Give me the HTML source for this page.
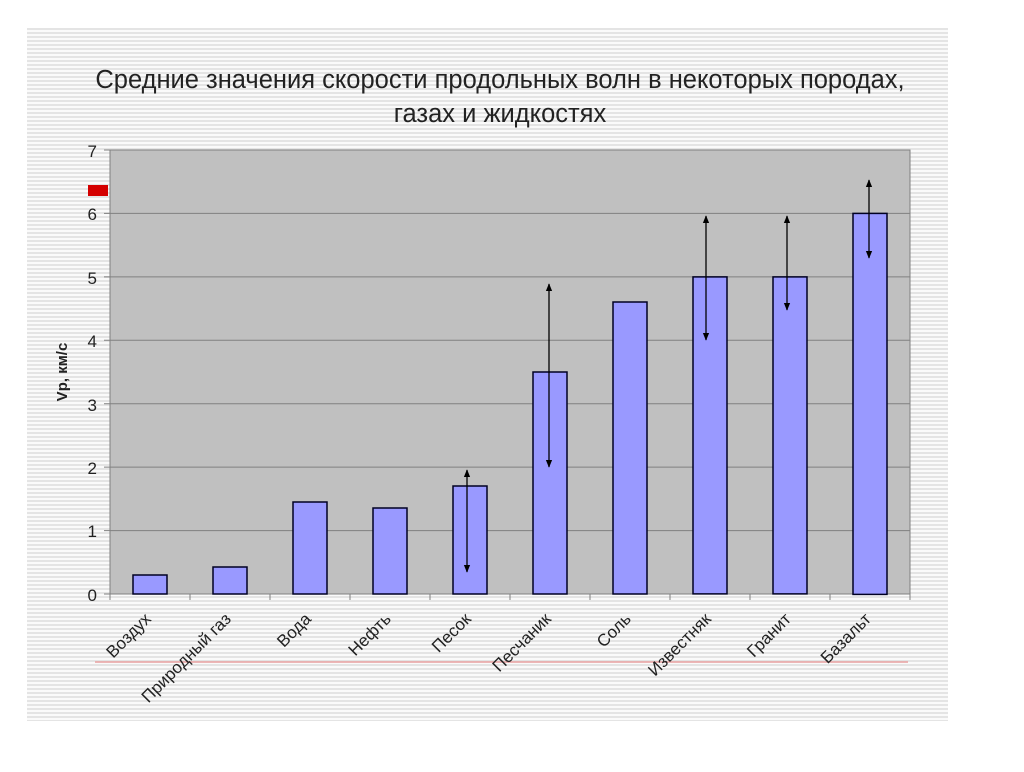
<!DOCTYPE html>
<html><head><meta charset="utf-8"><style>
body{margin:0;background:#fff}
text{font-family:"Liberation Sans",sans-serif}
</style></head><body>
<svg width="1024" height="767" xmlns="http://www.w3.org/2000/svg">
<defs>
<pattern id="st" width="4" height="4" patternUnits="userSpaceOnUse">
<rect width="4" height="4" fill="#fafafa"/><rect width="4" height="2" fill="#e4e4e4"/>
</pattern>
<marker id="ar" viewBox="0 0 10 10" refX="9" refY="5" markerWidth="6" markerHeight="6" orient="auto-start-reverse"><path d="M0,1 L10,5 L0,9 z" fill="#000"/></marker>
</defs>
<rect x="27" y="28" width="921" height="693" fill="url(#st)"/>
<text x="500" y="88" font-size="25.5" text-anchor="middle" fill="#222">Средние значения скорости продольных волн в некоторых породах,</text>
<text x="500" y="122" font-size="25.5" text-anchor="middle" fill="#222">газах и жидкостях</text>
<rect x="110" y="150" width="800" height="444" fill="#c0c0c0" stroke="#808080"/>
<g stroke="#808080" stroke-width="1">
<line x1="104" y1="150" x2="910" y2="150"/>
<line x1="104" y1="213.4" x2="910" y2="213.4"/>
<line x1="104" y1="276.9" x2="910" y2="276.9"/>
<line x1="104" y1="340.3" x2="910" y2="340.3"/>
<line x1="104" y1="403.7" x2="910" y2="403.7"/>
<line x1="104" y1="467.1" x2="910" y2="467.1"/>
<line x1="104" y1="530.6" x2="910" y2="530.6"/>
<line x1="104" y1="594" x2="910" y2="594"/>
<line x1="110" y1="594" x2="110" y2="600"/><line x1="190" y1="594" x2="190" y2="600"/><line x1="270" y1="594" x2="270" y2="600"/><line x1="350" y1="594" x2="350" y2="600"/><line x1="430" y1="594" x2="430" y2="600"/><line x1="510" y1="594" x2="510" y2="600"/><line x1="590" y1="594" x2="590" y2="600"/><line x1="670" y1="594" x2="670" y2="600"/><line x1="750" y1="594" x2="750" y2="600"/><line x1="830" y1="594" x2="830" y2="600"/><line x1="910" y1="594" x2="910" y2="600"/>
</g>
<g font-size="17" text-anchor="end" fill="#222">
<text x="97" y="157">7</text><text x="97" y="220">6</text><text x="97" y="284">5</text><text x="97" y="347">4</text><text x="97" y="411">3</text><text x="97" y="474">2</text><text x="97" y="537">1</text><text x="97" y="601">0</text>
</g>
<rect x="88" y="185" width="20" height="11" fill="#d40000"/>
<text transform="translate(67,372) rotate(-90)" font-size="15" font-weight="bold" text-anchor="middle" fill="#222">Vp, км/с</text>
<g fill="#9999ff" stroke="#000022" stroke-width="1.5">
<rect x="133" y="575" width="34" height="19"/>
<rect x="213" y="567" width="34" height="27"/>
<rect x="293" y="502" width="34" height="92"/>
<rect x="373" y="508" width="34" height="86"/>
<rect x="453" y="486" width="34" height="108"/>
<rect x="533" y="372" width="34" height="222"/>
<rect x="613" y="302" width="34" height="292"/>
<rect x="693" y="276.9" width="34" height="317"/>
<rect x="773" y="276.9" width="34" height="317"/>
<rect x="853" y="213.4" width="34" height="381"/>
</g>
<g stroke="#000" stroke-width="1.3" marker-start="url(#ar)" marker-end="url(#ar)">
<line x1="467" y1="470" x2="467" y2="572"/>
<line x1="549" y1="284" x2="549" y2="467"/>
<line x1="706" y1="216" x2="706" y2="340"/>
<line x1="787" y1="216" x2="787" y2="310"/>
<line x1="869" y1="180" x2="869" y2="258"/>
</g>
<line x1="95" y1="662" x2="908" y2="662" stroke="#e8a0a0" stroke-width="1.5"/>
<g font-size="17" text-anchor="end" fill="#222">
<text transform="translate(152,620) rotate(-45)">Воздух</text>
<text transform="translate(232,620) rotate(-45)">Природный газ</text>
<text transform="translate(312,620) rotate(-45)">Вода</text>
<text transform="translate(392,620) rotate(-45)">Нефть</text>
<text transform="translate(472,620) rotate(-45)">Песок</text>
<text transform="translate(552,620) rotate(-45)">Песчаник</text>
<text transform="translate(632,620) rotate(-45)">Соль</text>
<text transform="translate(712,620) rotate(-45)">Известняк</text>
<text transform="translate(792,620) rotate(-45)">Гранит</text>
<text transform="translate(872,620) rotate(-45)">Базальт</text>
</g>
</svg>
</body></html>
